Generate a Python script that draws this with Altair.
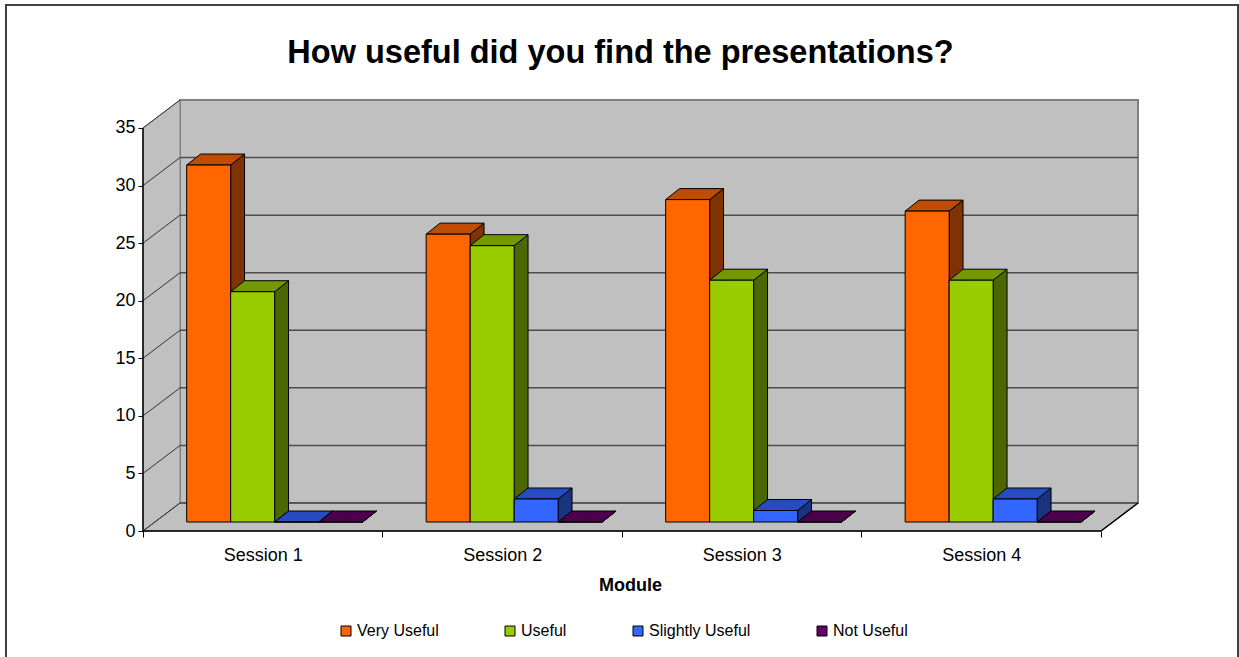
import altair as alt
import pandas as pd

# ---------------- data ----------------
sessions = ["Session 1", "Session 2", "Session 3", "Session 4"]
series = ["Very Useful", "Useful", "Slightly Useful", "Not Useful"]
very_useful = [31, 25, 28, 27]
useful = [20, 24, 21, 21]
slightly_useful = [0, 2, 1, 2]
not_useful = [0, 0, 0, 0]
y_ticks = [0, 5, 10, 15, 20, 25, 30, 35]

title_text = "How useful did you find the presentations?"
x_title = "Module"

# ---------------- styles ----------------
front_colors = ["#FF6600", "#99CC00", "#3366FF", "#660066"]
top_colors = ["#BF4C00", "#739900", "#264CBF", "#4C004C"]
side_colors = ["#803300", "#4C6600", "#1A3380", "#330033"]
WALL_FILL = "#C0C0C0"
FONT = "Liberation Sans"

# ---------------- 3-D geometry (axis units) ----------------
Y_TOP = y_ticks[-1]
N = len(sessions)
WALL_DU, WALL_DV = 0.1545, 2.43      # depth of the whole box
BAR_DU0, BAR_DV0 = 0.0497, 0.78      # bars sit this far inside the box
BAR_DU, BAR_DV = 0.058, 0.955        # depth of a bar
BAR_W = 0.1837
GROUP_OFF = (1 - len(series) * BAR_W) / 2
U_MAX = N + WALL_DU
V_MAX = Y_TOP + WALL_DV

values = [very_useful, useful, slightly_useful, not_useful]

rows_front, rows_side, rows_top = [], [], []
for s, sess in enumerate(sessions):
    for k, ser in enumerate(series):
        val = values[k][s]
        xl = s + GROUP_OFF + k * BAR_W + BAR_DU0
        xr = xl + BAR_W
        yb = BAR_DV0
        yt = yb + val
        bid = f"{s}-{k}"
        rows_front.append(dict(series=ser, session=sess, value=val, u=xl, u2=xr, v=yb, v2=yt))
        rows_side += [dict(id=bid, series=ser, u=xr, v=yt, v2=yb),
                      dict(id=bid, series=ser, u=xr + BAR_DU, v=yt + BAR_DV, v2=yb + BAR_DV)]
        rows_top += [dict(id=bid, series=ser, v=yt, u=xl, u2=xr),
                     dict(id=bid, series=ser, v=yt + BAR_DV, u=xl + BAR_DU, u2=xr + BAR_DU)]

df_front = pd.DataFrame(rows_front)
df_side = pd.DataFrame(rows_side)
df_top = pd.DataFrame(rows_top)

df_back = pd.DataFrame([dict(u=WALL_DU, u2=N + WALL_DU, v=WALL_DV, v2=Y_TOP + WALL_DV)])
df_left = pd.DataFrame([dict(u=0, v=Y_TOP, v2=0), dict(u=WALL_DU, v=Y_TOP + WALL_DV, v2=WALL_DV)])
df_floor = pd.DataFrame([dict(v=0, u=0, u2=N), dict(v=WALL_DV, u=WALL_DU, u2=N + WALL_DU)])
df_grid_back = pd.DataFrame([dict(u=WALL_DU, u2=N + WALL_DU, v=t + WALL_DV, v2=t + WALL_DV) for t in y_ticks[:-1]])
df_grid_left = pd.DataFrame([dict(u=0, u2=WALL_DU, v=t, v2=t + WALL_DV) for t in y_ticks])
df_edges = pd.DataFrame([
    dict(u=0, u2=N, v=0, v2=0),
    dict(u=0, u2=0, v=0, v2=Y_TOP),
    dict(u=N, u2=N + WALL_DU, v=0, v2=WALL_DV),
])
df_sess = pd.DataFrame({"session": sessions})
df_one = pd.DataFrame({"k": [0]})

XS = alt.Scale(domain=[0, U_MAX], nice=False, zero=False)
YS = alt.Scale(domain=[0, V_MAX], nice=False, zero=False)

y_axis = alt.Axis(values=y_ticks, domain=False, grid=False, ticks=True, tickSize=5,
                  tickColor="black", tickWidth=1, labelFont=FONT, labelFontSize=18,
                  labelColor="black", labelPadding=3, title=None)


def X(f):
    return alt.X(f"{f}:Q", scale=XS, axis=None)


def Y(f):
    return alt.Y(f"{f}:Q", scale=YS, axis=y_axis)


back_wall = alt.Chart(df_back).mark_rect(fill=WALL_FILL, stroke="#808080", strokeWidth=2).encode(
    x=X("u"), x2=alt.X2("u2"), y=Y("v"), y2=alt.Y2("v2"))

left_wall = alt.Chart(df_left).mark_area(orient="vertical", fill=WALL_FILL, opacity=1,
                                         stroke="#808080", strokeWidth=1).encode(
    x=X("u"), y=Y("v"), y2=alt.Y2("v2"))

floor = alt.Chart(df_floor).mark_area(orient="horizontal", fill=WALL_FILL, opacity=1,
                                      stroke="#606060", strokeWidth=1).encode(
    y=Y("v"), x=X("u"), x2=alt.X2("u2"))

grid_back = alt.Chart(df_grid_back).mark_rule(color="#4D4D4D", strokeWidth=1.5).encode(
    x=X("u"), x2=alt.X2("u2"), y=Y("v"), y2=alt.Y2("v2"))

grid_left = alt.Chart(df_grid_left).mark_rule(color="#333333", strokeWidth=1).encode(
    x=X("u"), x2=alt.X2("u2"), y=Y("v"), y2=alt.Y2("v2"))

edges = alt.Chart(df_edges).mark_rule(color="black", strokeWidth=1.5).encode(
    x=X("u"), x2=alt.X2("u2"), y=Y("v"), y2=alt.Y2("v2"))

side = alt.Chart(df_side).mark_area(orient="vertical", opacity=1, stroke="black", strokeWidth=1).encode(
    x=X("u"), y=Y("v"), y2=alt.Y2("v2"),
    color=alt.Color("series:N", scale=alt.Scale(domain=series, range=side_colors), legend=None),
    detail="id:N")

top = alt.Chart(df_top).mark_area(orient="horizontal", opacity=1, stroke="black", strokeWidth=1).encode(
    y=Y("v"), x=X("u"), x2=alt.X2("u2"),
    color=alt.Color("series:N", scale=alt.Scale(domain=series, range=top_colors), legend=None),
    detail="id:N")

legend = alt.Legend(title=None, orient="none", legendX=195, legendY=523, direction="horizontal",
                    columns=4, symbolType="square", symbolSize=100, symbolStrokeColor="black",
                    symbolStrokeWidth=1, labelFont=FONT, labelFontSize=16, labelColor="black",
                    labelOffset=3, columnPadding=63, padding=0)

front = alt.Chart(df_front).mark_rect(stroke="black", strokeWidth=1, opacity=1).encode(
    x=X("u"), x2=alt.X2("u2"), y=Y("v"), y2=alt.Y2("v2"),
    color=alt.Color("series:N", scale=alt.Scale(domain=series, range=front_colors), legend=legend,
                    sort=series))

x_axis = alt.Axis(orient="bottom", domain=False, grid=False, ticks=True, tickBand="extent",
                  tickSize=6, tickColor="black", tickWidth=1, labelFont=FONT, labelFontSize=18,
                  labelColor="black", labelPadding=9, labelAngle=0, title=x_title,
                  titleFont=FONT, titleFontSize=18, titleFontWeight="bold", titleColor="black",
                  titleX=487, titleY=45, titleAlign="center", titleBaseline="top")

axis_layer = alt.Chart(df_sess).mark_bar(opacity=0).encode(
    x=alt.X("session:N", sort=sessions,
            scale=alt.Scale(type="band", domain=sessions, paddingInner=0,
                            paddingOuter=WALL_DU / 2, align=0),
            axis=x_axis))

frame = alt.Chart(df_one).mark_rect(fillOpacity=0, stroke="#404040", strokeWidth=2).encode(
    x=alt.value(-137), x2=alt.value(1095), y=alt.value(-95), y2=alt.value(560))

chart = alt.layer(
    back_wall, left_wall, floor, grid_back, grid_left, edges, side, top, front, axis_layer, frame
).resolve_scale(
    x="independent", color="independent"
).properties(
    width=995, height=431,
    padding={"left": 143, "top": 100, "right": 101, "bottom": 126},
    autosize=alt.AutoSizeParams(type="none"),
    background="white",
    title=alt.TitleParams(text=title_text, font=FONT, fontSize=32.5, fontWeight="bold",
                          color="black", anchor="middle", frame="group", dx=-20, offset=-65),
).configure_view(stroke=None)

chart.save("out.html", embed_options={"renderer": "svg", "actions": False})
